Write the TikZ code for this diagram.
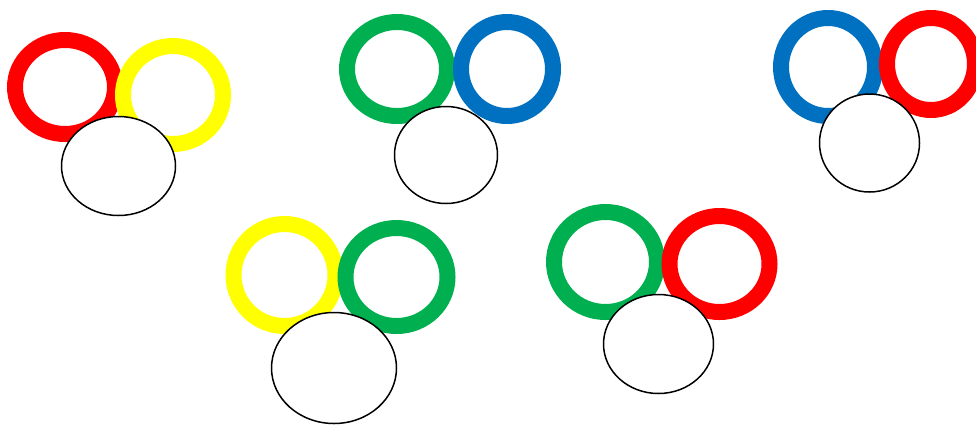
\documentclass[tikz,border=0pt]{standalone}
\usetikzlibrary{shapes.geometric}
\definecolor{ringred}{HTML}{FF0000}
\definecolor{ringyellow}{HTML}{FFFF00}
\definecolor{ringgreen}{HTML}{00B050}
\definecolor{ringblue}{HTML}{0070C0}
\tikzset{
  ring/.style={ellipse,draw=#1,line width=16pt,inner sep=0pt},
  face/.style={ellipse,draw=black,fill=white,line width=1.5pt,inner sep=0pt}
}
\begin{document}
\begin{tikzpicture}[x=1pt,y=-1pt]
  \useasboundingbox (0,0) rectangle (976,424);
  % top row
  \node[ring=ringred,minimum width=100pt,minimum height=94pt](r1a)at(65,87){};
  \node[ring=ringyellow,minimum width=100pt,minimum height=98pt](r1b)at(173,95){};
  \node[face,minimum width=114pt,minimum height=99pt](f1)at(118.5,166){};
  \node[ring=ringgreen,minimum width=100pt,minimum height=94pt](r2a)at(397,69){};
  \node[ring=ringblue,minimum width=92pt,minimum height=94pt](r2b)at(507,69){};
  \node[face,minimum width=103pt,minimum height=97pt](f2)at(446,155){};
  \node[ring=ringblue,minimum width=94pt,minimum height=98pt](r3a)at(828,67){};
  \node[ring=ringred,minimum width=88pt,minimum height=92pt](r3b)at(931,64){};
  \node[face,minimum width=100pt,minimum height=98pt](f3)at(869.5,143){};
  % bottom row
  \node[ring=ringyellow,minimum width=102pt,minimum height=102pt](r4a)at(284.5,275){};
  \node[ring=ringgreen,minimum width=102pt,minimum height=98pt](r4b)at(396.5,277){};
  \node[face,minimum width=125pt,minimum height=111pt](f4)at(334,368){};
  \node[ring=ringgreen,minimum width=103pt,minimum height=100pt](r5a)at(605.5,262){};
  \node[ring=ringred,minimum width=100pt,minimum height=96pt](r5b)at(719.5,264){};
  \node[face,minimum width=110pt,minimum height=99pt](f5)at(658.5,344){};
\end{tikzpicture}
\end{document}
